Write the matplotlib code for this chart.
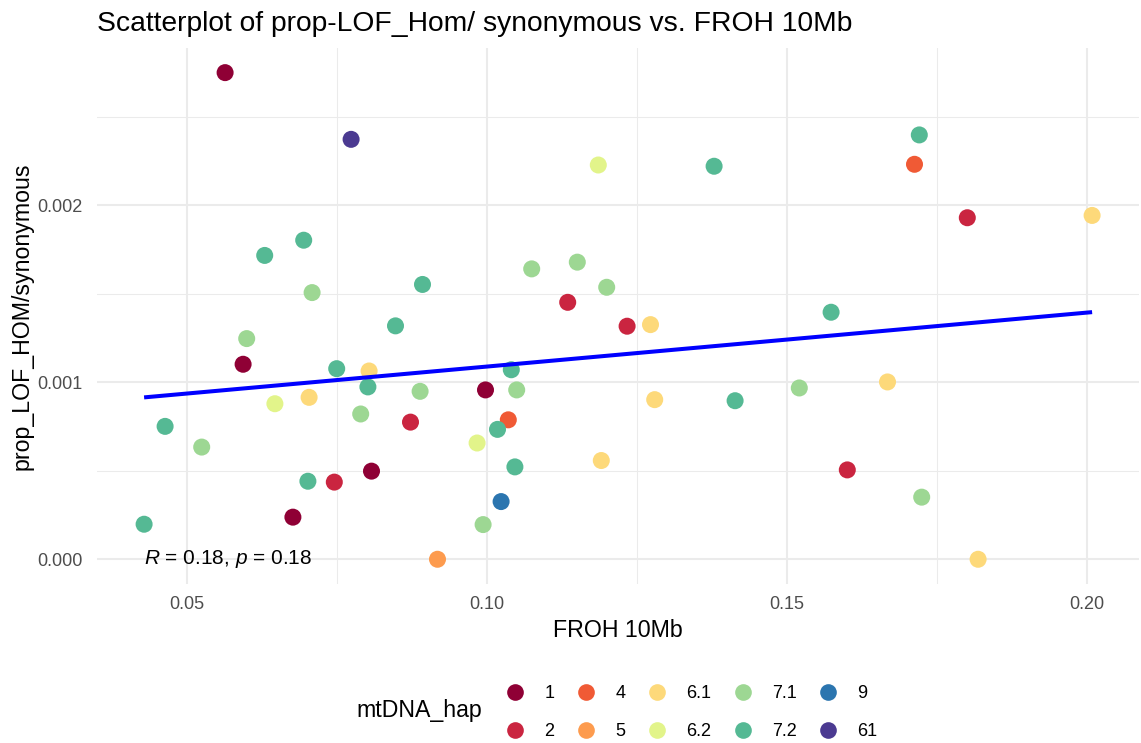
import numpy as np
import matplotlib
matplotlib.use("Agg")
import matplotlib.pyplot as plt
from matplotlib.lines import Line2D

plt.rcParams['font.family'] = ['Liberation Sans', 'DejaVu Sans']
plt.rcParams['mathtext.fontset'] = 'custom'
plt.rcParams['mathtext.it'] = 'Liberation Sans:italic'
plt.rcParams['mathtext.rm'] = 'Liberation Sans'

hap_levels = ['1', '2', '4', '5', '6.1', '6.2', '7.1', '7.2', '9', '61']
hap_colors = ['#8F0035', '#CA2540', '#F05A35', '#FD9B4E', '#FDD97A',
              '#E2F48A', '#9DD793', '#55B994', '#2B75AF', '#4B3A91']

hap = ['1', '61', '7.2', '7.2', '7.1', '7.2', '7.1', '7.2', '7.1', '1',
       '7.2', '6.1', '7.2', '7.1', '1', '7.2', '7.1', '6.2', '6.1', '7.2',
       '7.1', '7.1', '2', '4', '7.2', '6.2', '7.2', '7.2', '2', '1',
       '9', '1', '7.2', '7.1', '5', '6.2', '7.2', '7.2', '4', '2',
       '6.1', '7.1', '7.1', '2', '2', '6.1', '7.2', '6.1', '7.2', '7.1',
       '6.1', '6.1', '2', '7.1', '6.1']
froh = [0.0564, 0.0774, 0.0695, 0.0630, 0.0709, 0.0893, 0.1075, 0.0848, 0.0600, 0.0594,
        0.0750, 0.0804, 0.0802, 0.0889, 0.0998, 0.1041, 0.1050, 0.0647, 0.0704, 0.0464,
        0.0525, 0.0790, 0.0873, 0.1036, 0.1018, 0.0984, 0.1047, 0.0702, 0.0746, 0.0808,
        0.1024, 0.0677, 0.0429, 0.0994, 0.0918, 0.1186, 0.1379, 0.1721, 0.1713, 0.1801,
        0.2009, 0.1151, 0.1200, 0.1135, 0.1234, 0.1273, 0.1574, 0.1280, 0.1414, 0.1521,
        0.1668, 0.1191, 0.1601, 0.1725, 0.1819]
prop = [0.002750, 0.002373, 0.001803, 0.001717, 0.001507, 0.001553, 0.001641, 0.001319, 0.001247, 0.001102,
        0.001077, 0.001064, 0.000974, 0.000949, 0.000957, 0.001071, 0.000957, 0.000879, 0.000915, 0.000751,
        0.000634, 0.000821, 0.000775, 0.000788, 0.000734, 0.000657, 0.000522, 0.000441, 0.000436, 0.000498,
        0.000326, 0.000238, 0.000198, 0.000196, 0.000000, 0.002228, 0.002221, 0.002398, 0.002232, 0.001930,
        0.001943, 0.001679, 0.001537, 0.001452, 0.001317, 0.001326, 0.001396, 0.000902, 0.000896, 0.000968,
        0.001002, 0.000558, 0.000505, 0.000351, 0.000000]

x_major = [0.05, 0.10, 0.15, 0.20]
x_minor = [0.075, 0.125, 0.175]
y_major = [0.000, 0.001, 0.002]
y_minor = [0.0005, 0.0015, 0.0025]

cor_label = r"$\it{R}$ = 0.18, $\it{p}$ = 0.18"

W, H = 1141, 743
fig = plt.figure(figsize=(W / 100, H / 100), dpi=100)
ax_l, ax_r, ax_t, ax_b = 96.7, 1139.5, 48.3, 583.6
ax = fig.add_axes([ax_l / W, (H - ax_b) / H, (ax_r - ax_l) / W, (ax_b - ax_t) / H])

x = np.array(froh)
y = np.array(prop)
cmap = dict(zip(hap_levels, hap_colors))
cols = [cmap[h] for h in hap]

ax.scatter(x, y, s=150, c=cols, linewidths=0, zorder=3)

b1, b0 = np.polyfit(x, y, 1)
xl = np.array([x.min(), x.max()])
ax.plot(xl, b0 + b1 * xl, color='#0000FF', lw=2.9, zorder=4, solid_capstyle='butt')

ax.text(x.min(), 0.0, cor_label, ha='left', va='center', fontsize=15, color='black', zorder=5)

xr = x.max() - x.min()
yr = y.max() - y.min()
ax.set_xlim(x.min() - 0.05 * xr, x.max() + 0.05 * xr)
ax.set_ylim(y.min() - 0.05 * yr, y.max() + 0.05 * yr)

ax.set_xticks(x_major)
ax.set_xticklabels(['0.05', '0.10', '0.15', '0.20'])
ax.set_yticks(y_major)
ax.set_yticklabels(['0.000', '0.001', '0.002'])
ax.set_xticks(x_minor, minor=True)
ax.set_yticks(y_minor, minor=True)
ax.grid(which='major', color='#EBEBEB', lw=1.5, zorder=0)
ax.grid(which='minor', color='#EBEBEB', lw=0.75, zorder=0)
ax.set_axisbelow(True)
for s in ax.spines.values():
    s.set_visible(False)
ax.tick_params(which='both', length=0)
ax.tick_params(axis='both', labelsize=13, labelcolor='#4D4D4D')
ax.tick_params(axis='x', pad=9)
ax.tick_params(axis='y', pad=10)
ax.set_xlabel('FROH 10Mb', fontsize=16.7, labelpad=4)
ax.set_ylabel('prop_LOF_HOM/synonymous', fontsize=16.7)
ax.yaxis.set_label_coords((34 - ax_l) / (ax_r - ax_l), 0.5)

fig.text(97 / W, (H - 31) / H, 'Scatterplot of prop-LOF_Hom/ synonymous vs. FROH 10Mb',
         fontsize=20.3, ha='left', va='baseline')

handles = [Line2D([], [], ls='none', marker='o', markersize=12.0, markerfacecolor=c,
                  markeredgewidth=0) for c in hap_colors]
leg = fig.legend(handles, hap_levels, ncol=5, frameon=False, fontsize=13,
                 loc='upper left', bbox_to_anchor=(506 / W, (H - 685) / H),
                 handlelength=1.0, handletextpad=1.13, columnspacing=1.24,
                 labelspacing=1.18, borderpad=0, borderaxespad=0)
fig.text(356 / W, (H - 711) / H, 'mtDNA_hap', fontsize=16.7, ha='left', va='center')

fig.savefig('out.png', dpi=100)
